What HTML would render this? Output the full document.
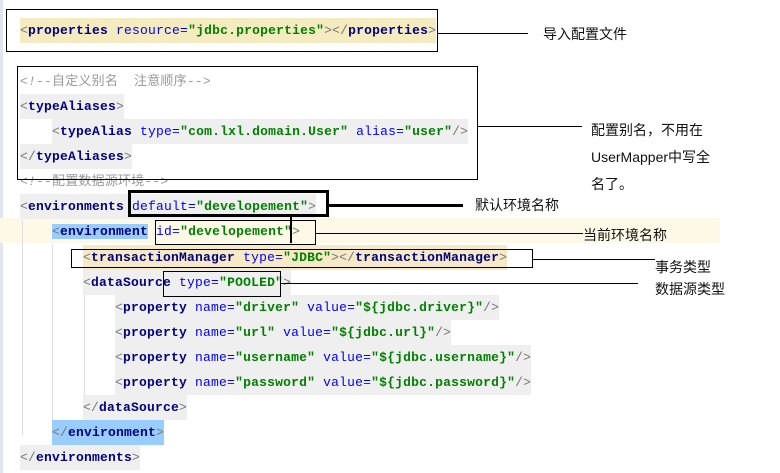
<!DOCTYPE html>
<html><head><meta charset="utf-8"><style>
body{margin:0;width:780px;height:473px;background:#fff;position:relative;overflow:hidden;font-family:"Liberation Mono","Noto Sans CJK SC",monospace;}
.l{position:absolute;height:25px;line-height:25px;font-size:13px;letter-spacing:0.2px;white-space:pre;background:#efefef;font-family:"Liberation Mono","Noto Sans CJK SC",monospace;}
.t{color:#000080;font-weight:bold}
.a{color:#0000ff}
.v{color:#008000;font-weight:bold}
.b{color:#777}
.c{color:#999}
.box{position:absolute;border:1px solid #000;box-sizing:border-box}
.h{position:absolute;height:1px;background:#000}
.lab{position:absolute;font-family:"Liberation Sans","Noto Sans CJK SC",sans-serif;font-size:14px;color:#111;white-space:nowrap}
.g{position:absolute;width:1px;background:#ddd}
</style></head><body>
<div style="position:absolute;left:0;top:0;width:3px;height:473px;background:#dfe6f0"></div>
<div style="position:absolute;left:0;top:218px;width:720px;height:25px;background:#fdf9e6"></div>
<div class="g" style="left:22px;top:220px;height:215px"></div>
<div class="g" style="left:52px;top:245px;height:175px"></div>
<div class="g" style="left:84px;top:295px;height:100px"></div>

<div class="l" style="left:20px;top:18px;background:#f5ebc0"><span class="b">&lt;</span><span class="t">properties</span> <span class="a">resource=</span><span class="v">"jdbc.properties"</span><span class="b">&gt;&lt;/</span><span class="t">properties</span><span class="b">&gt;</span></div>
<div class="l c" style="left:20px;top:69px;background:none"><i>&lt;!</i>--自定义别名  注意顺序--&gt;</div>
<div class="l" style="left:20px;top:94px"><span class="b">&lt;</span><span class="t">typeAliases</span><span class="b">&gt;</span></div>
<div class="l" style="left:52px;top:119px"><span class="b">&lt;</span><span class="t">typeAlias</span> <span class="a">type=</span><span class="v">"com.lxl.domain.User"</span> <span class="a">alias=</span><span class="v">"user"</span><span class="b">/&gt;</span></div>
<div class="l" style="left:20px;top:144px"><span class="b">&lt;/</span><span class="t">typeAliases</span><span class="b">&gt;</span></div>
<div class="l c" style="left:20px;top:169px;background:none"><i>&lt;!</i>--配置数据源环境--&gt;</div>
<div class="l" style="left:20px;top:194px"><span class="b">&lt;</span><span class="t">environments</span> <span class="a">default=</span><span class="v">"developement"</span><span class="b">&gt;</span></div>
<div class="l" style="left:52px;top:219px;background:none"><span style="background:#99ccff"><span class="b">&lt;</span><span class="t">environment</span></span> <span class="a">id=</span><span class="v">"developement"</span><span class="b">&gt;</span></div>
<div class="l" style="left:83px;top:245px;background:#f5eac5"><span class="b">&lt;</span><span class="t">transactionManager</span> <span class="a">type=</span><span class="v">"JDBC"</span><span class="b">&gt;&lt;/</span><span class="t">transactionManager</span><span class="b">&gt;</span></div>
<div class="l" style="left:83px;top:270px"><span class="b">&lt;</span><span class="t">dataSource</span> <span class="a">type=</span><span class="v">"POOLED"</span><span class="b">&gt;</span></div>
<div class="l" style="left:115px;top:295px"><span class="b">&lt;</span><span class="t">property</span> <span class="a">name=</span><span class="v">"driver"</span> <span class="a">value=</span><span class="v">"${jdbc.driver}"</span><span class="b">/&gt;</span></div>
<div class="l" style="left:115px;top:320px"><span class="b">&lt;</span><span class="t">property</span> <span class="a">name=</span><span class="v">"url"</span> <span class="a">value=</span><span class="v">"${jdbc.url}"</span><span class="b">/&gt;</span></div>
<div class="l" style="left:115px;top:345px"><span class="b">&lt;</span><span class="t">property</span> <span class="a">name=</span><span class="v">"username"</span> <span class="a">value=</span><span class="v">"${jdbc.username}"</span><span class="b">/&gt;</span></div>
<div class="l" style="left:115px;top:370px"><span class="b">&lt;</span><span class="t">property</span> <span class="a">name=</span><span class="v">"password"</span> <span class="a">value=</span><span class="v">"${jdbc.password}"</span><span class="b">/&gt;</span></div>
<div class="l" style="left:83px;top:395px"><span class="b">&lt;/</span><span class="t">dataSource</span><span class="b">&gt;</span></div>
<div class="l" style="left:52px;top:420px;background:#99ccff"><span class="b">&lt;/</span><span class="t">environment</span><span class="b">&gt;</span></div>
<div class="l" style="left:20px;top:445px"><span class="b">&lt;/</span><span class="t">environments</span><span class="b">&gt;</span></div>

<div class="box" style="left:6px;top:9px;width:432px;height:43px"></div>
<div class="h" style="left:437px;top:33px;width:91px"></div>
<div class="lab" style="left:543px;top:24px">导入配置文件</div>

<div class="box" style="left:17px;top:66px;width:461px;height:114px"></div>
<div class="h" style="left:477px;top:126px;width:105px"></div>
<div class="lab" style="left:591px;top:117px;line-height:27px">配置别名，不用在<br>UserMapper中写全<br>名了。</div>

<div class="box" style="left:128px;top:190px;width:201px;height:27px;border-width:3px"></div>
<div class="h" style="left:328px;top:204px;width:135px;height:3px"></div>
<div class="lab" style="left:475px;top:195px;background:#fff;padding-right:10px">默认环境名称</div>
<div style="position:absolute;left:290px;top:215px;width:2px;height:28px;background:#000"></div>

<div class="box" style="left:155px;top:220px;width:161px;height:25px"></div>
<div class="h" style="left:315px;top:233px;width:268px"></div>
<div class="lab" style="left:583px;top:225px">当前环境名称</div>

<div class="box" style="left:71px;top:249px;width:462px;height:19px"></div>
<div class="h" style="left:532px;top:259px;width:123px"></div>
<div class="lab" style="left:655px;top:257px">事务类型</div>

<div class="box" style="left:163px;top:271px;width:118px;height:26px"></div>
<div class="h" style="left:280px;top:283px;width:358px"></div>
<div class="lab" style="left:655px;top:279px">数据源类型</div>
</body></html>
